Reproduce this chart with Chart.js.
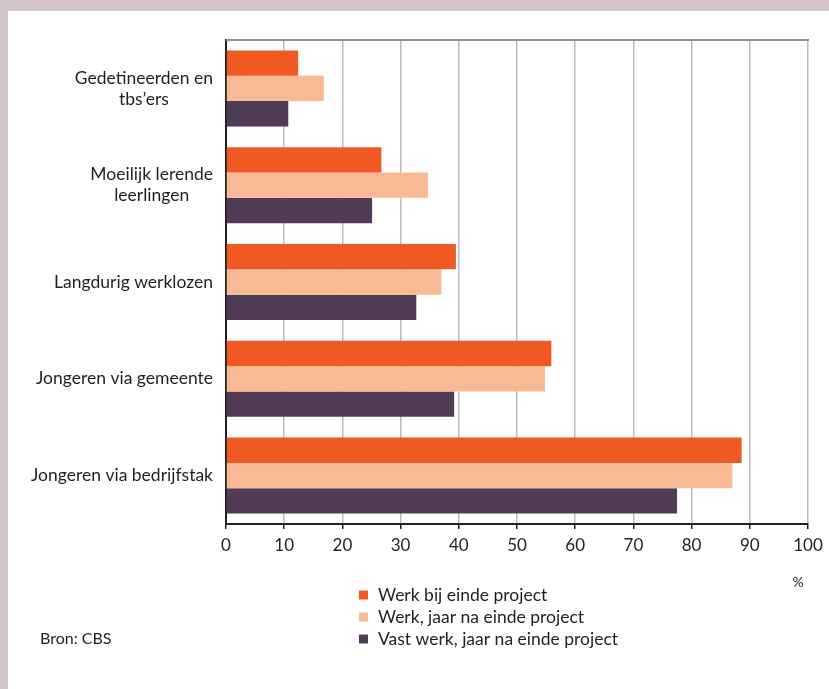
<!DOCTYPE html>
<html>
<head>
<meta charset="utf-8">
<script src="https://cdn.jsdelivr.net/npm/chart.js@4"></script>
<style>
  body { margin: 0; background: #fff; }
  canvas { display: block; }
</style>
</head>
<body>
<canvas id="chart" width="829" height="689"></canvas>
<script>
const categories = [
  ["Gedetineerden en", "tbs’ers"],
  ["Moeilijk lerende", "leerlingen"],
  "Langdurig werklozen",
  "Jongeren via gemeente",
  "Jongeren via bedrijfstak",
];
const werkEinde = [12.4, 26.7, 39.5, 55.9, 88.6];
const werkJaar = [16.8, 34.7, 37.0, 54.8, 87.0];
const vastWerk = [10.7, 25.1, 32.7, 39.2, 77.5];
const seriesNames = [
  "Werk bij einde project",
  "Werk, jaar na einde project",
  "Vast werk, jaar na einde project",
];
const xTicks = [0, 10, 20, 30, 40, 50, 60, 70, 80, 90, 100];

const FONT = "Lato, 'Open Sans', sans-serif";
const TEXT = "#231f20";
const colors = ["#f05a22", "#f9b995", "#513c56"];

function wrapLines(label) {
  return Array.isArray(label) ? label : [label];
}

var ctx = document.getElementById("chart").getContext("2d");

var chart = new Chart(ctx, {
  type: "bar",
  data: {
    labels: categories,
    datasets: [
      { label: seriesNames[0], data: werkEinde, backgroundColor: colors[0] },
      { label: seriesNames[1], data: werkJaar, backgroundColor: colors[1] },
      { label: seriesNames[2], data: vastWerk, backgroundColor: colors[2] },
    ],
  },
  options: {
    indexAxis: "y",
    responsive: false,
    animation: false,
    datasets: {
      bar: { categoryPercentage: 0.785, barPercentage: 1.0 },
    },
    layout: { padding: { top: 40, right: 21, left: 0, bottom: 0 } },
    plugins: {
      legend: { display: false },
      tooltip: { enabled: false },
    },
    scales: {
      x: {
        min: 0,
        max: 100,
        afterBuildTicks: (scale) => {
          scale.ticks = xTicks.map((v) => ({ value: v }));
        },
        afterFit: (scale) => {
          scale.height = 165;
        },
        grid: {
          color: "#bcbcc0",
          lineWidth: 1.5,
          tickColor: "#231f20",
          tickLength: 5,
        },
        border: { color: "#231f20", width: 2 },
        ticks: {
          color: TEXT,
          padding: 6,
          maxRotation: 0,
          font: { family: FONT, size: 17 },
        },
      },
      y: {
        afterFit: (scale) => {
          scale.width = 226;
        },
        grid: { display: false },
        border: { color: "#231f20", width: 2 },
        ticks: { display: false },
      },
    },
  },
  plugins: [
    {
      id: "frame",
      beforeDraw: (chart) => {
        const c = chart.ctx;
        c.save();
        c.fillStyle = "#d2c5ca";
        c.fillRect(0, 0, chart.width, 11);
        c.fillRect(0, 0, 8, chart.height);
        c.restore();
      },
    },
    {
      id: "custom_labels",
      afterDraw: (chart) => {
        const c = chart.ctx;
        const yScale = chart.scales.y;
        const area = chart.chartArea;
        c.save();
        // top border of the plot
        c.strokeStyle = "#8e9196";
        c.lineWidth = 2;
        c.beginPath();
        c.moveTo(area.left, area.top);
        c.lineTo(area.right + 1, area.top);
        c.stroke();

        c.font = "17.5px " + FONT;
        c.fillStyle = TEXT;
        c.textBaseline = "middle";
        c.textAlign = "center";
        const lineH = 21;
        categories.forEach((label, i) => {
          const lines = wrapLines(label);
          const y = yScale.getPixelForTick(i);
          const maxW = Math.max(...lines.map((l) => c.measureText(l).width));
          const cx = 213 - maxW / 2;
          lines.forEach((l, j) => {
            c.fillText(l, cx, y + (j - (lines.length - 1) / 2) * lineH);
          });
        });

        // unit
        c.font = "14px " + FONT;
        c.fillText("%", 798, 582);

        // legend
        c.font = "17.5px " + FONT;
        c.textAlign = "left";
        seriesNames.forEach((name, i) => {
          const y = 595 + i * 22;
          c.fillStyle = colors[i];
          c.fillRect(359, y - 4.5, 9, 9);
          c.fillStyle = TEXT;
          c.fillText(name, 378, y);
        });

        c.font = "16px " + FONT;
        c.fillText("Bron: CBS", 40, 639);
        c.restore();
      },
    },
  ],
});
</script>
</body>
</html>
